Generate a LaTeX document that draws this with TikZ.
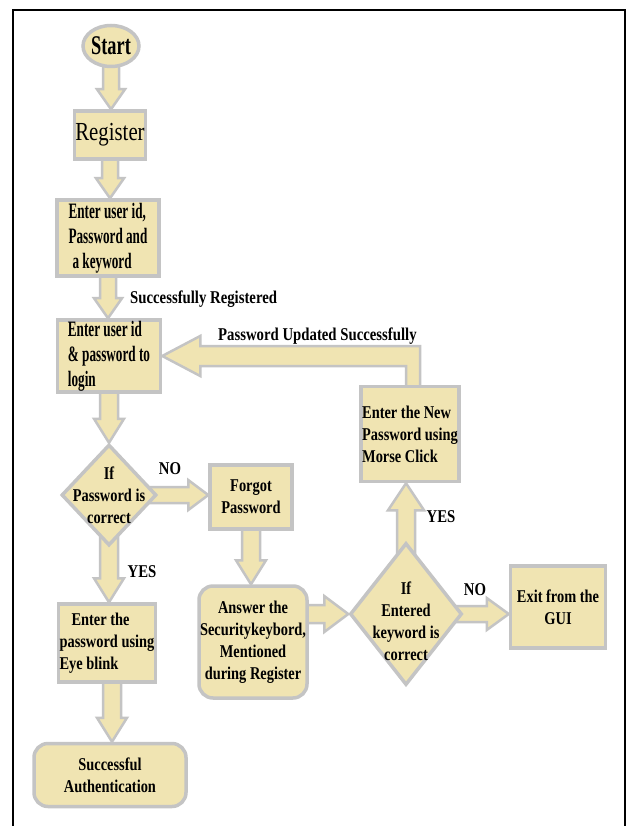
\documentclass[tikz,border=0pt]{standalone}
\usepackage{fontspec}
\setmainfont{Liberation Serif}[FakeStretch=0.8]
\newfontfamily\bigfont{Liberation Serif}[FakeStretch=0.6]
\newfontfamily\startfont{Liberation Serif}[FakeStretch=0.68]
\newfontfamily\labfont{Liberation Serif}[FakeStretch=0.82]
\usetikzlibrary{calc,shapes.geometric,backgrounds}
\definecolor{khaki}{RGB}{240,228,178}
\definecolor{edge}{RGB}{196,196,196}
\newcommand\fatarr[5]{%
  \path[fatarrow] let \p1=(#1), \p2=(#2),
    \n1={atan2(\y2-\y1,\x2-\x1)}, \n2={veclen(\x2-\x1,\y2-\y1)} in
    ([shift={(\p1)},rotate=\n1]0pt,#3)
    -- ([shift={(\p1)},rotate=\n1]\n2-#5,#3)
    -- ([shift={(\p1)},rotate=\n1]\n2-#5,#4)
    -- ([shift={(\p1)},rotate=\n1]\n2,0pt)
    -- ([shift={(\p1)},rotate=\n1]\n2-#5,-#4)
    -- ([shift={(\p1)},rotate=\n1]\n2-#5,-#3)
    -- ([shift={(\p1)},rotate=\n1]0pt,-#3) -- cycle;}
\begin{document}
\begin{tikzpicture}[x=1pt,y=-1pt,
  box/.style={rectangle, draw=edge, fill=khaki, line width=3.5pt, inner sep=1pt,
    align=center, font=\fontsize{18}{22}\selectfont\bfseries},
  bigbox/.style={box, font=\bigfont\fontsize{22}{25}\selectfont\bfseries},
  rbox/.style={box, rounded corners=14pt},
  ell/.style={ellipse, draw=edge, fill=khaki, line width=3.5pt, inner sep=-4pt,
    font=\startfont\fontsize{27}{28}\selectfont\bfseries},
  dia/.style={diamond, draw=edge, fill=khaki, line width=3.5pt, inner sep=0pt},
  dtext/.style={align=center, inner sep=0pt, font=\fontsize{18}{22}\selectfont\bfseries},
  fatarrow/.style={draw=edge, fill=khaki, line width=2.5pt, line join=miter},
  lab/.style={inner sep=0pt, font=\labfont\fontsize{18}{22}\selectfont\bfseries}]
\useasboundingbox (0,0) rectangle (630,826);
\begin{pgfonlayer}{background}
\fill[white] (0,0) rectangle (630,826);
\end{pgfonlayer}
\draw[line width=1.5pt] (13,826) -- (13,10) -- (625,10) -- (625,826);

% nodes
\node[ell, minimum width=56, minimum height=41] (start) at (111,46) {Start};
\node[box, minimum width=70, minimum height=48, font=\fontsize{26}{28}\selectfont] (register) at (110,135) {Register};
\node[bigbox, minimum width=102, minimum height=76, align=left] (reg) at (108,238) {Enter user id,\\Password and\\\hspace*{4pt}a keyword};
\node[bigbox, minimum width=103, minimum height=72, align=left] (login) at (109,356) {Enter user id\\\& password to\\login};
\node[dia, minimum width=95, minimum height=101, label={[dtext]center:{If\\Password is\\correct}}] (d1) at (109,495) {};
\node[box, minimum width=82, minimum height=64] (forgot) at (251,497) {Forgot\\Password};
\node[rbox, minimum width=104, minimum height=112] (answer) at (253,642) {Answer the\\Securitykeybord,\\Mentioned\\during Register};
\node[box, minimum width=97, minimum height=78, align=left] (eye) at (107,643) {\hspace*{12pt}Enter the\\password using\\Eye blink};
\node[rbox, minimum width=152, minimum height=63] (succ) at (110,775) {Successful\\Authentication};
\node[dia, minimum width=112, minimum height=142, label={[dtext, yshift=-7pt]center:{If\\Entered\\keyword is\\correct}}] (d2) at (406,614) {};
\node[box, minimum width=94, minimum height=95, align=left] (morse) at (410,434) {Enter the New\\Password using\\Morse Click};
\node[box, minimum width=95, minimum height=82] (exit) at (558,607) {Exit from the\\GUI};

% connectors
\begin{pgfonlayer}{background}
\fatarr{start.center}{start.center |- register.north}{8pt}{14pt}{20pt}
\fatarr{register.center}{register.center |- reg.north}{8pt}{14pt}{20pt}
\fatarr{reg.center}{reg.center |- login.north}{8pt}{14pt}{20pt}
\fatarr{login.center}{login.center |- d1.north}{9pt}{15pt}{24pt}
\fatarr{d1.center}{d1.center |- eye.north}{9pt}{15pt}{24pt}
\fatarr{$(eye.center)+(5,0)$}{$(eye.center |- succ.north)+(5,0)$}{9pt}{15pt}{24pt}
\fatarr{d1.center}{forgot.west |- d1.center}{8pt}{15pt}{20pt}
\fatarr{forgot.center}{forgot.center |- answer.north}{9pt}{15pt}{24pt}
\fatarr{answer.center |- d2.west}{d2.west}{9pt}{18pt}{24pt}
\fatarr{d2.center}{exit.west |- d2.center}{8pt}{16pt}{22pt}
\fatarr{d2.center}{d2.center |- morse.south}{9pt}{18pt}{27pt}
\path[fatarrow] let \p1=($(morse.center)+(3,0)$), \p2=(login.east) in
  (\x1-7pt,\y1) -- (\x1-7pt,\y2-10pt) -- (\x2+38pt,\y2-10pt) -- (\x2+38pt,\y2-20pt)
  -- (\p2) -- (\x2+38pt,\y2+20pt) -- (\x2+38pt,\y2+10pt) -- (\x1+7pt,\y2+10pt)
  -- (\x1+7pt,\y1) -- cycle;
\end{pgfonlayer}

% connector labels
\node[lab, anchor=west] (l1) at (130,299) {Successfully Registered};
\node[lab, anchor=west] (l2) at (218,336) {Password Updated Successfully};
\node[lab] (l3) at (170,469) {NO};
\node[lab] (l4) at (142,572) {YES};
\node[lab] (l5) at (441,517) {YES};
\node[lab] (l6) at (475,590) {NO};
\end{tikzpicture}
\end{document}
